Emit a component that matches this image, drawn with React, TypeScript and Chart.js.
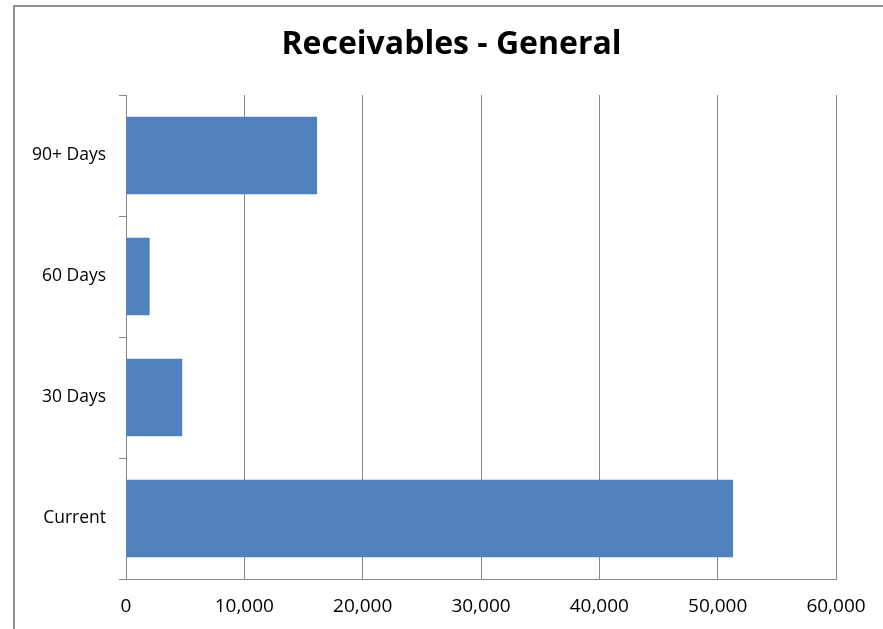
import React, { useEffect, useRef } from "react";
import { Chart, registerables } from "chart.js";

Chart.register(...registerables);

const TITLE = "Receivables - General";
const categories = ["90+ Days", "60 Days", "30 Days", "Current"];
const amounts = [16150, 2000, 4750, 51300];
const xMin = 0;
const xMax = 60000;
const xStep = 10000;

const FONT = "'Open Sans', 'DejaVu Sans', sans-serif";
const GRID = "#878787";

export default function App() {
  const ref = useRef<HTMLCanvasElement | null>(null);

  useEffect(() => {
    if (!ref.current) return;
    const chart = new Chart(ref.current, {
      type: "bar",
      data: {
        labels: categories,
        datasets: [
          {
            data: amounts,
            backgroundColor: "#4F81BD",
            borderWidth: 0,
            barPercentage: 0.8,
            categoryPercentage: 0.8,
          },
        ],
      },
      options: {
        indexAxis: "y",
        animation: false,
        responsive: false,
        maintainAspectRatio: false,
        layout: { padding: { left: 20, right: 0, top: 0, bottom: 0 } },
        plugins: {
          legend: { display: false },
          tooltip: { enabled: false },
          title: {
            display: true,
            text: TITLE,
            color: "#000",
            font: { family: FONT, size: 32, weight: "bold", lineHeight: 1.2 },
            padding: { top: 25.5, bottom: 31.1 },
          },
        },
        scales: {
          x: {
            min: xMin,
            max: xMax,
            ticks: {
              stepSize: xStep,
              color: "#000",
              font: { family: FONT, size: 19 },
              padding: 16,
              callback: (v: any) => Number(v).toLocaleString("en-US"),
            },
            grid: { color: GRID, lineWidth: 1, drawTicks: false },
            border: { color: GRID, width: 1 },
            afterFit: (s: any) => {
              s.height = 50;
            },
          },
          y: {
            offset: true,
            ticks: {
              color: "#000",
              font: { family: FONT, size: 17.5 },
              padding: 13,
            },
            grid: {
              offset: true,
              drawOnChartArea: false,
              drawTicks: true,
              tickLength: 7,
              color: GRID,
              lineWidth: 1,
            },
            border: { color: GRID, width: 1 },
            afterFit: (s: any) => {
              s.width = 106;
            },
          },
          yRightSpace: {
            type: "linear",
            position: "right",
            display: true,
            grid: { display: false, drawTicks: false },
            ticks: { display: false },
            border: { display: false },
            afterFit: (s: any) => {
              s.width = 47;
            },
          },
        },
      },
    });
    return () => chart.destroy();
  }, []);

  return (
    <div
      style={{
        position: "fixed",
        left: 0,
        top: 0,
        width: 883,
        height: 629,
        background: "#fff",
        overflow: "hidden",
      }}
    >
      <div
        style={{
          position: "absolute",
          left: 13,
          top: 5,
          width: 900,
          height: 700,
          borderLeft: `2px solid #8f8f8f`,
          borderTop: `2px solid #8f8f8f`,
        }}
      />
      <canvas
        ref={ref}
        width={883}
        height={629}
        style={{ position: "absolute", left: 0, top: 0, width: 883, height: 629 }}
      />
    </div>
  );
}
